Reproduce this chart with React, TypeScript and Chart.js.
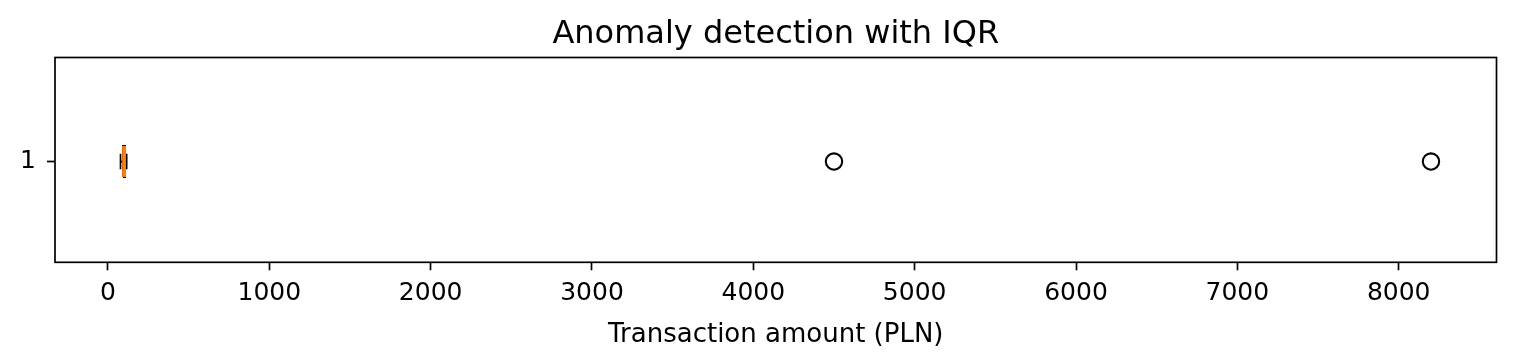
import React, { useEffect, useRef } from 'react';
import { Chart, registerables } from 'chart.js';
Chart.register(...registerables);

// ---- data ----
const boxLabels = ['1'];
const whiskerLow = [78];
const q1 = [93];
const median = [100];
const q3 = [107];
const whiskerHigh = [116];
const outliers = [4500, 8200];
const xTicks = [0, 1000, 2000, 3000, 4000, 5000, 6000, 7000, 8000];

const titleText = 'Anomaly detection with IQR';
const xTitle = 'Transaction amount (PLN)';

const BOX_HALF = 0.076;
const CAP_HALF = 0.038;
const FONT = "'DejaVu Sans', sans-serif";

export default function App() {
  const ref = useRef<HTMLCanvasElement>(null);
  useEffect(() => {
    document.body.style.margin = '0';
    const canvas = ref.current;
    if (!canvas) return;
    const lo = Math.min(...whiskerLow, ...outliers);
    const hi = Math.max(...whiskerHigh, ...outliers);
    const m = (hi - lo) * 0.05;

    const seg = (pts: { x: number; y: number }[], color: string, w: number, order = 1) => ({
      type: 'scatter' as const,
      data: pts,
      showLine: true,
      borderColor: color,
      backgroundColor: color,
      borderWidth: w,
      pointRadius: 0,
      pointHoverRadius: 0,
      fill: false,
      order,
    });

    const datasets: any[] = [];
    boxLabels.forEach((_, i) => {
      const y = i + 1;
      datasets.push(seg([{ x: median[i], y: y - BOX_HALF }, { x: median[i], y: y + BOX_HALF }], '#ff7f0e', 3.8, 0));
      datasets.push(seg([
        { x: q1[i], y: y - BOX_HALF }, { x: q3[i], y: y - BOX_HALF },
        { x: q3[i], y: y + BOX_HALF }, { x: q1[i], y: y + BOX_HALF },
        { x: q1[i], y: y - BOX_HALF },
      ], '#000', 1.7));
      datasets.push(seg([{ x: whiskerLow[i], y }, { x: q1[i], y }], '#000', 1.7));
      datasets.push(seg([{ x: q3[i], y }, { x: whiskerHigh[i], y }], '#000', 1.7));
      datasets.push(seg([{ x: whiskerLow[i], y: y - CAP_HALF }, { x: whiskerLow[i], y: y + CAP_HALF }], '#000', 1.7));
      datasets.push(seg([{ x: whiskerHigh[i], y: y - CAP_HALF }, { x: whiskerHigh[i], y: y + CAP_HALF }], '#000', 1.7));
    });
    datasets.push({
      type: 'scatter',
      data: outliers.map((v) => ({ x: v, y: 1 })),
      pointRadius: 8.2,
      pointBorderWidth: 2.1,
      pointBorderColor: '#000',
      pointBackgroundColor: 'rgba(0,0,0,0)',
      borderColor: '#000',
      backgroundColor: 'rgba(0,0,0,0)',
      showLine: false,
      order: 0,
    });

    const frame = {
      id: 'frame',
      afterDatasetsDraw(chart: any) {
        const { ctx, chartArea: a } = chart;
        ctx.save();
        ctx.strokeStyle = '#000';
        ctx.lineWidth = 1.7;
        ctx.strokeRect(a.left, a.top, a.right - a.left, a.bottom - a.top);
        const cx = (a.left + a.right) / 2;
        ctx.fillStyle = '#000';
        ctx.textAlign = 'center';
        ctx.textBaseline = 'alphabetic';
        ctx.font = `32px ${FONT}`;
        ctx.fillText(titleText, cx, 43.3);
        ctx.font = `26px ${FONT}`;
        ctx.fillText(xTitle, cx, 341.5);
        ctx.restore();
      },
    };

    const chart = new Chart(canvas, {
      type: 'scatter',
      data: { datasets },
      plugins: [frame],
      options: {
        animation: false,
        responsive: false,
        events: [],
        layout: { padding: { left: 0, right: 19.5, top: 57.5, bottom: 0 } },
        plugins: {
          legend: { display: false },
          tooltip: { enabled: false },
          title: { display: false },
        },
        scales: {
          x: {
            type: 'linear',
            min: lo - m,
            max: hi + m,
            afterBuildTicks: (s: any) => { s.ticks = xTicks.map((v) => ({ value: v })); },
            afterFit: (s: any) => { s.height = 101.7; },
            ticks: {
              color: '#000',
              font: { family: FONT, size: 25 },
              padding: 8,
              maxRotation: 0,
              autoSkip: false,
              callback: (v: any) => String(v),
            },
            grid: { display: true, drawOnChartArea: false, drawTicks: true, tickLength: 8, tickColor: '#000', tickWidth: 1.7 },
            border: { display: false },
          },
          y: {
            type: 'linear',
            min: 0.508,
            max: 1.508,
            afterBuildTicks: (s: any) => { s.ticks = boxLabels.map((_, i) => ({ value: i + 1 })); },
            afterFit: (s: any) => { s.width = 55; },
            ticks: {
              color: '#000',
              font: { family: FONT, size: 25 },
              padding: 11,
              callback: (v: any) => boxLabels[Math.round(v) - 1] ?? '',
            },
            grid: { display: true, drawOnChartArea: false, drawTicks: true, tickLength: 8, tickColor: '#000', tickWidth: 1.7 },
            border: { display: false },
          },
        },
      },
    });
    return () => chart.destroy();
  }, []);
  return (
    <div style={{ width: 1516, height: 364, background: '#fff' }}>
      <canvas ref={ref} width={1516} height={364} style={{ display: 'block', width: 1516, height: 364 }} />
    </div>
  );
}
